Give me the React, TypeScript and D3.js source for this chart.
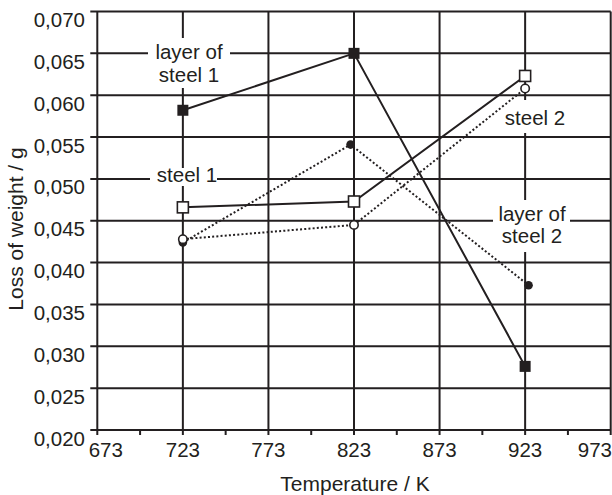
import React from "react";
import * as d3 from "d3";

// temperatures (K) and loss of weight (g)
const temperatures = [723, 823, 923];
const layerSteel1 = [0.0582, 0.065, 0.0276];
const steel1 = [0.0466, 0.0473, 0.0623];
const steel2 = [0.0428, 0.0445, 0.0608];
const layerSteel2Temps = [723, 821, 925];
const layerSteel2 = [0.0424, 0.0541, 0.0373];

const xTicks = [673, 723, 773, 823, 873, 923, 973];
const xMinorTicks = [698, 748, 798, 848, 898, 948];
const yTicks = [0.02, 0.025, 0.03, 0.035, 0.04, 0.045, 0.05, 0.055, 0.06, 0.065, 0.07];

const INK = "#231f20";
const FONT = "'Liberation Sans', Arial, Helvetica, sans-serif";

const width = 612;
const height = 495;

const x = d3.scaleLinear().domain([673, 973]).range([97.3, 610.7]);
const y = d3.scaleLinear().domain([0.02, 0.07]).range([430, 11.5]);

const fmt = (v: number) => v.toFixed(3).replace(".", ",");

type Pt = [number, number];
const line = d3
  .line<Pt>()
  .x((d) => x(d[0]))
  .y((d) => y(d[1]));

const zip = (ts: number[], vs: number[]): Pt[] => ts.map((t, i) => [t, vs[i]]);

// annotation boxes (white background that breaks the grid) in pixels
const labels = [
  { lines: ["layer of", "steel 1"], cx: 189, box: [148, 38, 82, 50], base: [59, 82] },
  { lines: ["steel 1"], cx: 187, box: [150, 168, 67, 18], base: [182] },
  { lines: ["steel 2"], cx: 535, box: [503, 100, 64, 33], base: [125] },
  { lines: ["layer of", "steel 2"], cx: 532, box: [493, 200, 77, 52], base: [221, 243] },
];

export default function App() {
  const pLayer1 = zip(temperatures, layerSteel1);
  const pSteel1 = zip(temperatures, steel1);
  const pSteel2 = zip(temperatures, steel2);
  const pLayer2 = zip(layerSteel2Temps, layerSteel2);

  return (
    <svg
      width={width}
      height={height}
      style={{ position: "absolute", left: 0, top: 0, background: "#fff" }}
      fontFamily={FONT}
    >
      <rect width={width} height={height} fill="#fff" />
      {/* grid */}
      <g stroke={INK} strokeWidth={2}>
        {yTicks.map((t) => (
          <line key={"h" + t} x1={x(673) - 7} x2={x(973)} y1={y(t)} y2={y(t)} />
        ))}
        {xTicks.map((t) => (
          <line key={"v" + t} x1={x(t)} x2={x(t)} y1={y(0.07)} y2={y(0.02) + 5} />
        ))}
        {xMinorTicks.map((t) => (
          <line key={"m" + t} x1={x(t)} x2={x(t)} y1={y(0.02)} y2={y(0.02) + 5} />
        ))}
      </g>

      {/* y tick labels */}
      <g fontSize={20.5} fill={INK} textAnchor="end">
        {yTicks.map((t) => (
          <text key={"yl" + t} x={85} y={y(t) + 15.5}>
            {fmt(t)}
          </text>
        ))}
      </g>
      {/* x tick labels */}
      <g fontSize={20.5} fill={INK}>
        {xTicks.map((t, i) => {
          let anchor = "middle";
          let px = x(t);
          if (i === 0) px += 8.5;
          if (i === xTicks.length - 1) {
            anchor = "end";
            px = 612;
          }
          return (
            <text key={"xl" + t} x={px} y={457} textAnchor={anchor}>
              {t}
            </text>
          );
        })}
      </g>

      {/* axis titles */}
      <text x={355} y={491} fontSize={21} fill={INK} textAnchor="middle">
        Temperature / K
      </text>
      <text
        transform={`translate(23,229) rotate(-90)`}
        fontSize={21}
        fill={INK}
        textAnchor="middle"
      >
        Loss of weight / g
      </text>

      {/* annotations */}
      {labels.map((l, i) => (
        <g key={"lab" + i}>
          <rect x={l.box[0]} y={l.box[1]} width={l.box[2]} height={l.box[3]} fill="#fff" />
          {l.lines.map((s, j) => (
            <text key={j} x={l.cx} y={l.base[j]} fontSize={20.5} fill={INK} textAnchor="middle">
              {s}
            </text>
          ))}
        </g>
      ))}

      {/* series lines */}
      <g fill="none" stroke={INK} strokeWidth={2}>
        <path d={line(pLayer2) ?? ""} strokeDasharray="2,2.2" />
        <path d={line(pSteel2) ?? ""} strokeDasharray="2,2.2" />
        <path d={line(pLayer1) ?? ""} />
        <path d={line(pSteel1) ?? ""} />
      </g>

      {/* markers */}
      <g fill={INK}>
        {pLayer2.map((d, i) => (
          <circle key={"fc" + i} cx={x(d[0])} cy={y(d[1])} r={4.3} />
        ))}
      </g>
      <g fill="#fff" stroke={INK} strokeWidth={1.6}>
        {pSteel2.map((d, i) => (
          <circle key={"oc" + i} cx={x(d[0])} cy={y(d[1])} r={4.2} />
        ))}
      </g>
      <g fill={INK}>
        {pLayer1.map((d, i) => (
          <rect key={"fs" + i} x={x(d[0]) - 5.5} y={y(d[1]) - 5.5} width={11} height={11} />
        ))}
      </g>
      <g fill="#fff" stroke={INK} strokeWidth={1.6}>
        {pSteel1.map((d, i) => (
          <rect key={"os" + i} x={x(d[0]) - 5.5} y={y(d[1]) - 5.5} width={11} height={11} />
        ))}
      </g>
    </svg>
  );
}
